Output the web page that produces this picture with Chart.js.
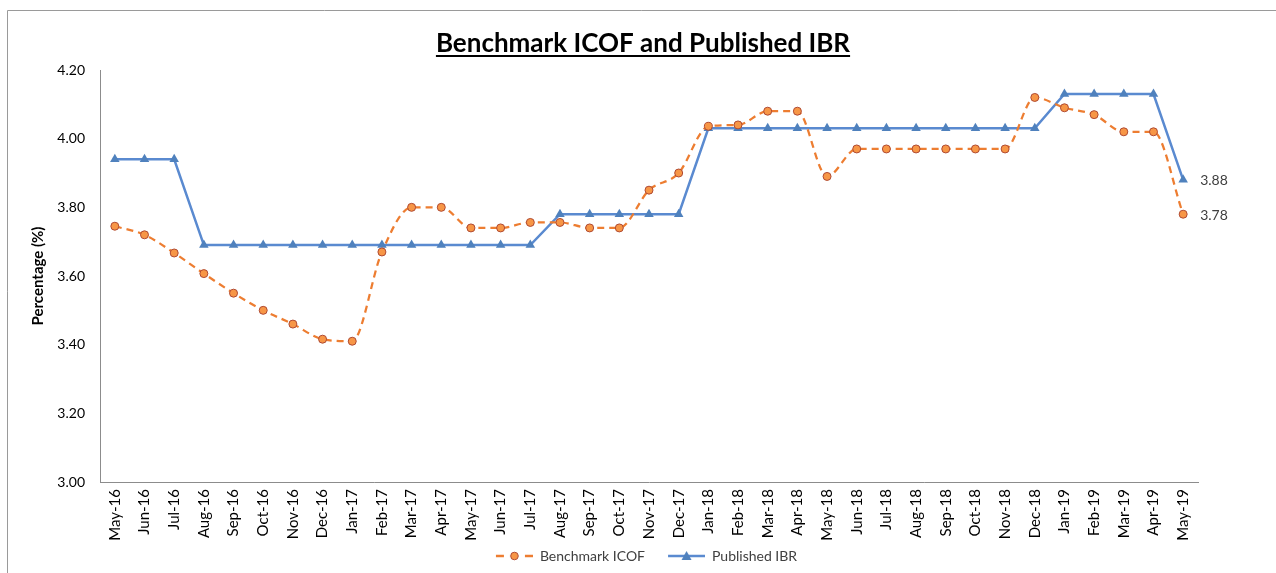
<!DOCTYPE html>
<html>
<head>
<meta charset="utf-8">
<script src="https://cdn.jsdelivr.net/npm/chart.js@4.4.1/dist/chart.umd.min.js"></script>
<style>
  html, body { margin: 0; padding: 0; background: #fff; }
  #wrap { position: absolute; left: 0; top: 0; width: 1276px; height: 573px; }
</style>
</head>
<body>
<div id="wrap"><canvas id="c" width="1276" height="573"></canvas></div>
<script>
const categories = ["May-16","Jun-16","Jul-16","Aug-16","Sep-16","Oct-16","Nov-16","Dec-16","Jan-17","Feb-17","Mar-17","Apr-17","May-17","Jun-17","Jul-17","Aug-17","Sep-17","Oct-17","Nov-17","Dec-17","Jan-18","Feb-18","Mar-18","Apr-18","May-18","Jun-18","Jul-18","Aug-18","Sep-18","Oct-18","Nov-18","Dec-18","Jan-19","Feb-19","Mar-19","Apr-19","May-19"];
const benchmarkICOF = [3.745,3.72,3.667,3.607,3.55,3.50,3.46,3.416,3.41,3.67,3.80,3.80,3.74,3.74,3.756,3.756,3.74,3.74,3.85,3.90,4.036,4.04,4.08,4.08,3.89,3.97,3.97,3.97,3.97,3.97,3.97,4.12,4.09,4.07,4.02,4.02,3.78];
const publishedIBR = [3.94,3.94,3.94,3.69,3.69,3.69,3.69,3.69,3.69,3.69,3.69,3.69,3.69,3.69,3.69,3.78,3.78,3.78,3.78,3.78,4.03,4.03,4.03,4.03,4.03,4.03,4.03,4.03,4.03,4.03,4.03,4.03,4.13,4.13,4.13,4.13,3.88];
const yTicks = [3.00,3.20,3.40,3.60,3.80,4.00,4.20];
const titleText = "Benchmark ICOF and Published IBR";
const yTitle = "Percentage (%)";

const FONT = "Lato, 'Open Sans', sans-serif";
const ORANGE = "#ED7D31";
const ORANGE_FILL = "#F79646";
const ORANGE_EDGE = "#B04A33";
const BLUE = "#4F81BD";
const BLUE_LINE = "#5A8AD0";

function legendIcon(kind) {
  const cv = document.createElement('canvas');
  cv.width = 52; cv.height = 12;
  const g = cv.getContext('2d');
  g.lineWidth = 2.5;
  const x0 = 15, x1 = 52, cx = 33.5;
  if (kind === 'icof') {
    g.strokeStyle = ORANGE;
    g.beginPath(); g.moveTo(x0, 6); g.lineTo(x0 + 8, 6); g.stroke();
    g.beginPath(); g.moveTo(x1 - 8, 6); g.lineTo(x1, 6); g.stroke();
    g.beginPath(); g.arc(cx, 6, 3.8, 0, Math.PI * 2);
    g.fillStyle = ORANGE_FILL; g.fill();
    g.lineWidth = 1; g.strokeStyle = ORANGE_EDGE; g.stroke();
  } else {
    g.strokeStyle = BLUE_LINE;
    g.beginPath(); g.moveTo(x0, 6); g.lineTo(x1, 6); g.stroke();
    g.fillStyle = BLUE;
    g.beginPath(); g.moveTo(cx, 1); g.lineTo(cx + 5, 10); g.lineTo(cx - 5, 10); g.closePath(); g.fill();
  }
  return cv;
}
const icons = [legendIcon('icof'), legendIcon('ibr')];

const decorPlugin = {
  id: 'decor',
  afterLayout(chart) {
    const lg = chart.legend;
    if (lg) {
      const shift = (chart.chartArea.left + chart.chartArea.right) / 2 - 10 - (lg.left + lg.right) / 2;
      lg.left += shift; lg.right += shift;
    }
  },
  beforeDraw(chart) {
    const ctx = chart.ctx;
    ctx.save();
    ctx.fillStyle = '#fff';
    ctx.fillRect(0, 0, chart.width, chart.height);
    ctx.strokeStyle = '#9a9a9a';
    ctx.lineWidth = 1;
    ctx.beginPath();
    ctx.moveTo(7.5, chart.height);
    ctx.lineTo(7.5, 10.5);
    ctx.lineTo(chart.width, 10.5);
    ctx.stroke();
    ctx.restore();
  },
  afterDraw(chart) {
    const ctx = chart.ctx;
    ctx.save();
    ctx.font = "bold 26px " + FONT;
    ctx.fillStyle = '#000';
    ctx.textAlign = 'center';
    ctx.textBaseline = 'alphabetic';
    const cx = chart.width / 2 + 5;
    const by = 52;
    ctx.fillText(titleText, cx, by);
    const w = ctx.measureText(titleText).width;
    ctx.fillRect(cx - w / 2, by + 3, w, 2);
    ctx.restore();
  },
  afterDatasetsDraw(chart) {
    const ctx = chart.ctx;
    ctx.save();
    ctx.font = "14px " + FONT;
    ctx.fillStyle = '#404040';
    ctx.textAlign = 'left';
    ctx.textBaseline = 'middle';
    chart.data.datasets.forEach((ds, i) => {
      const meta = chart.getDatasetMeta(i);
      const last = meta.data[meta.data.length - 1];
      const v = ds.data[ds.data.length - 1];
      ctx.fillText(v.toFixed(2), last.x + 17, last.y + 1);
    });
    ctx.restore();
  }
};

new Chart(document.getElementById('c'), {
  type: 'line',
  data: {
    labels: categories,
    datasets: [
      {
        label: 'Benchmark ICOF',
        data: benchmarkICOF,
        borderColor: ORANGE,
        borderWidth: 2.25,
        borderDash: [7, 5],
        pointStyle: 'circle',
        pointRadius: 4,
        pointBackgroundColor: ORANGE_FILL,
        pointBorderColor: ORANGE_EDGE,
        pointBorderWidth: 1,
        cubicInterpolationMode: 'monotone',
        tension: 0.3,
        fill: false
      },
      {
        label: 'Published IBR',
        data: publishedIBR,
        borderColor: BLUE_LINE,
        borderWidth: 2.5,
        pointStyle: 'triangle',
        pointRadius: 5.5,
        pointBackgroundColor: BLUE,
        pointBorderColor: BLUE,
        pointBorderWidth: 0,
        tension: 0,
        fill: false
      }
    ]
  },
  options: {
    responsive: false,
    devicePixelRatio: 1,
    animation: false,
    layout: { padding: { top: 70, right: 78, left: 29, bottom: 0 } },
    plugins: {
      title: { display: false },
      tooltip: { enabled: false },
      legend: {
        position: 'bottom',
        labels: {
          usePointStyle: true,
          pointStyleWidth: 52,
          boxHeight: 12,
          padding: 8,
          color: '#404040',
          font: { family: FONT, size: 14 },
          generateLabels(chart) {
            const items = Chart.defaults.plugins.legend.labels.generateLabels(chart);
            items.forEach((it, i) => { it.pointStyle = icons[i]; });
            return items;
          }
        }
      }
    },
    scales: {
      x: {
        offset: true,
        grid: { display: false, drawTicks: false },
        border: { display: true, color: '#8c8c8c', width: 1 },
        ticks: {
          maxRotation: 90, minRotation: 90,
          autoSkip: false,
          padding: 7,
          color: '#000',
          font: { family: FONT, size: 15 }
        },
        afterFit(scale) { scale.height = 59; }
      },
      y: {
        min: 3.0,
        max: 4.2,
        afterBuildTicks(scale) { scale.ticks = yTicks.map(v => ({ value: v })); },
        grid: { display: false, drawTicks: false },
        border: { display: true, color: '#8c8c8c', width: 1 },
        ticks: {
          padding: 15,
          color: '#000',
          font: { family: FONT, size: 14 },
          callback: v => Number(v).toFixed(2)
        },
        title: {
          display: true,
          text: yTitle,
          color: '#000',
          font: { family: FONT, size: 15, weight: 'bold' },
          padding: { top: 0, bottom: 8 }
        },
        afterFit(scale) { scale.width = 71; }
      }
    }
  },
  plugins: [decorPlugin]
});
</script>
</body>
</html>
